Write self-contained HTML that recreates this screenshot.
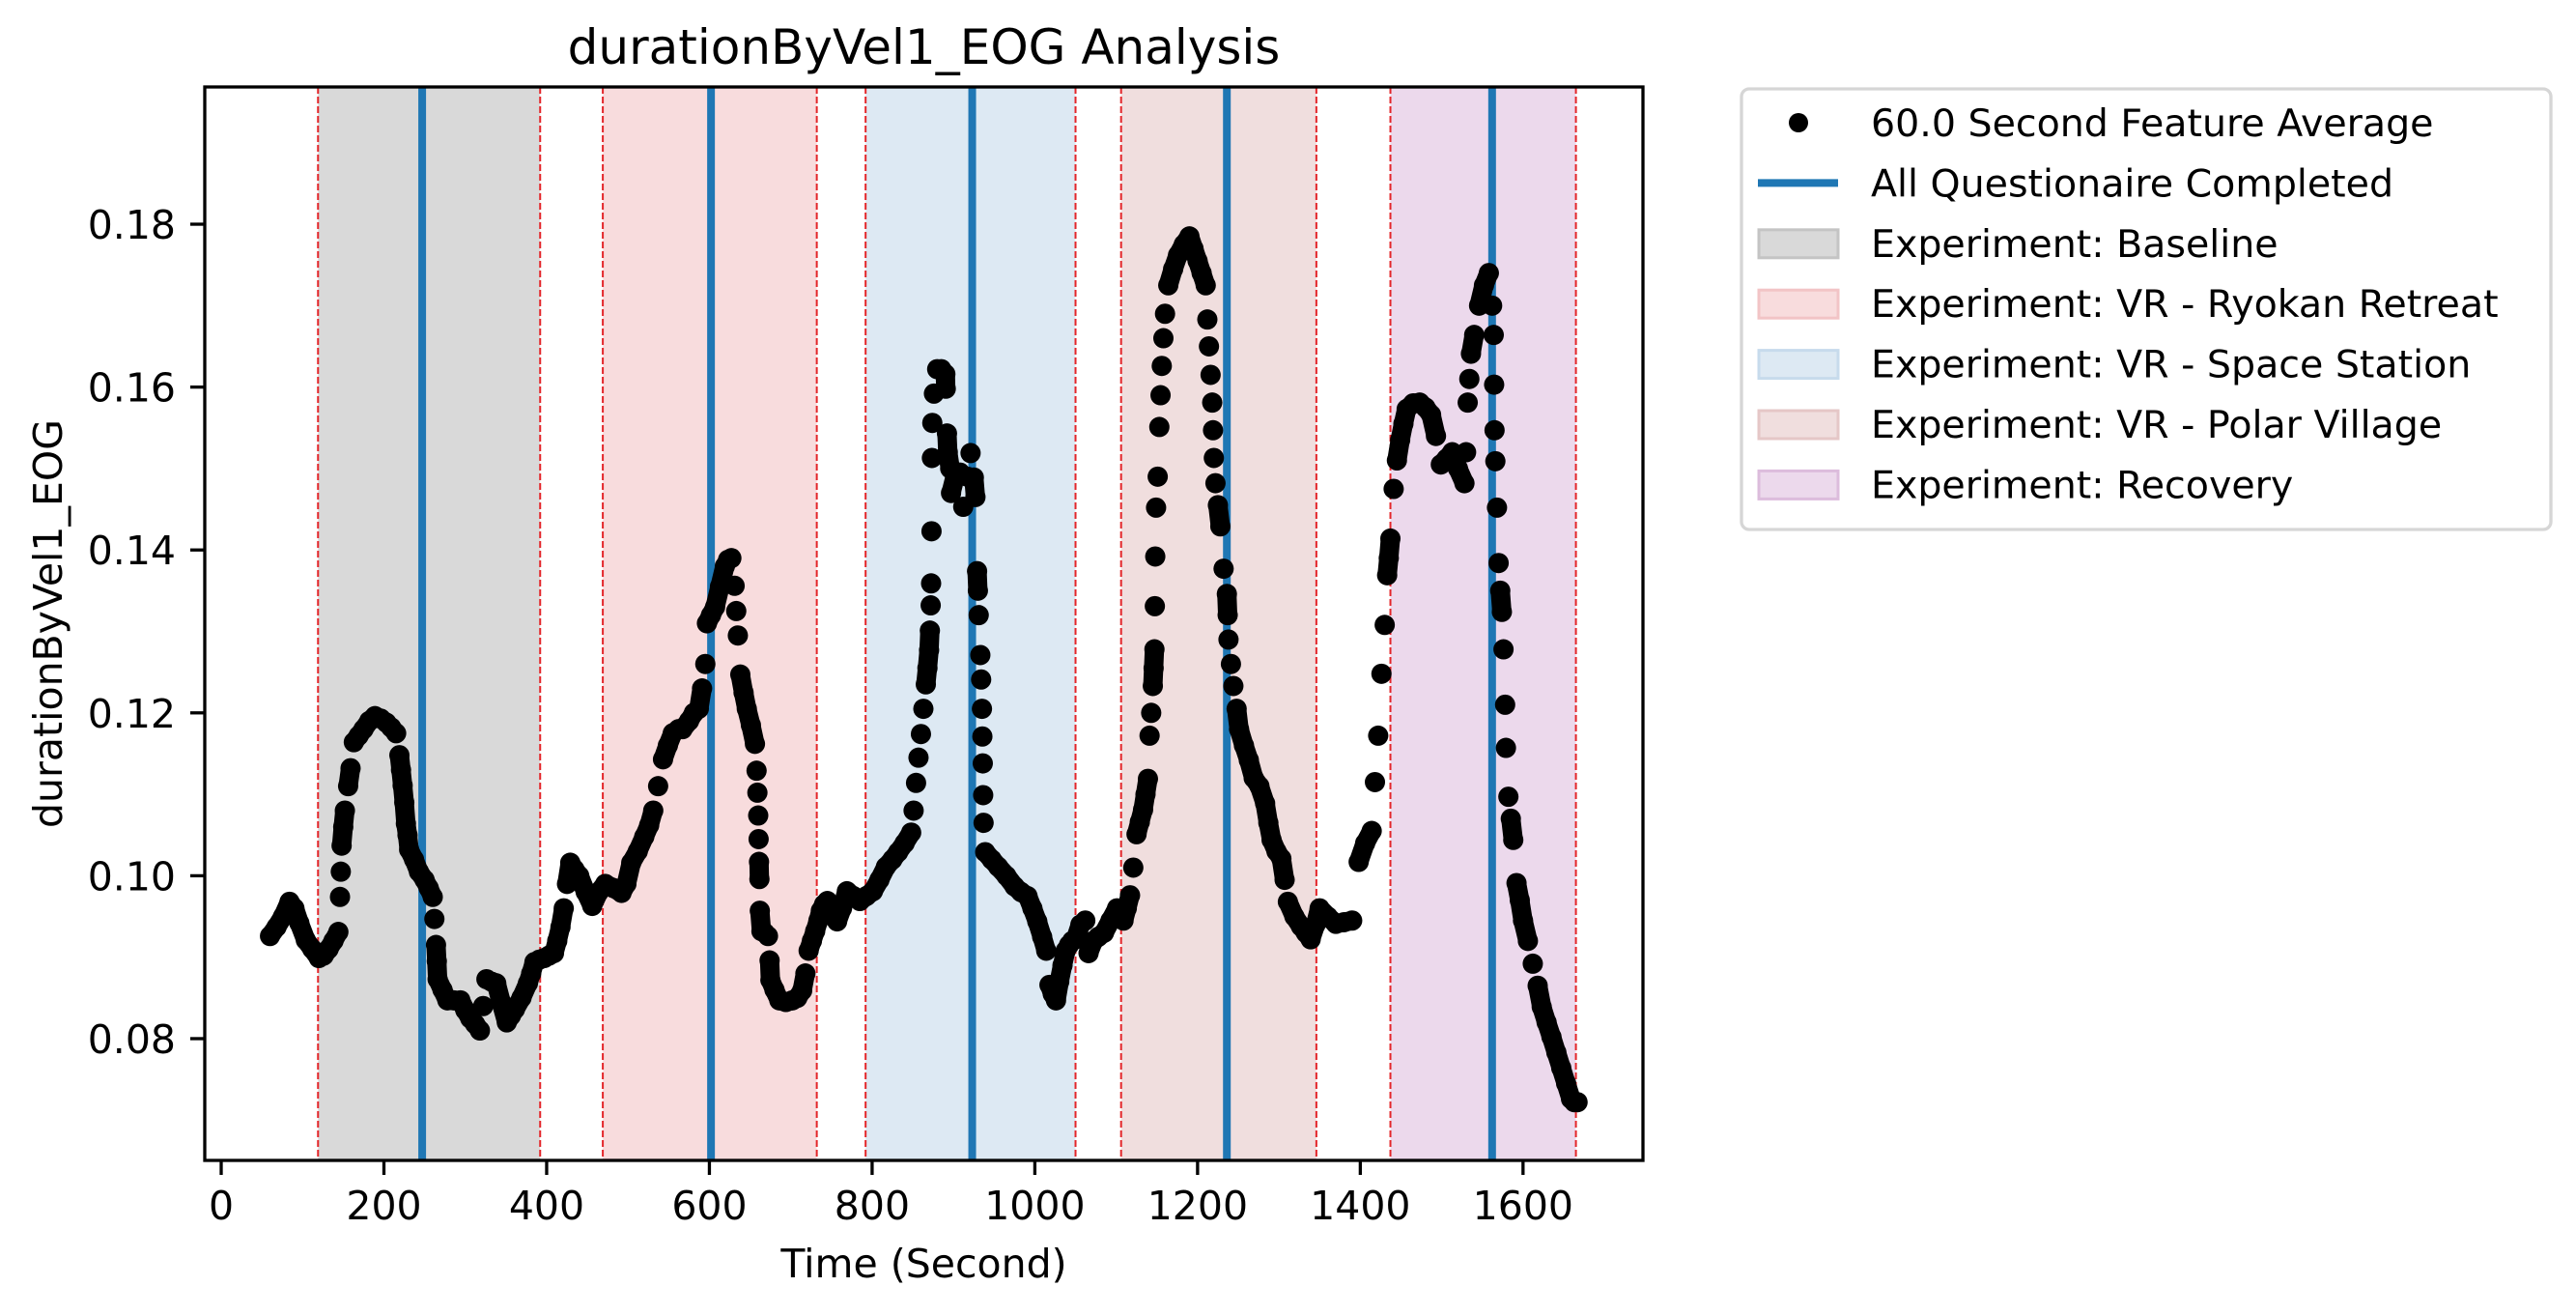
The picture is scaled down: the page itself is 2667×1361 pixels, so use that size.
<!DOCTYPE html>
<html><head><meta charset="utf-8"><title>durationByVel1_EOG Analysis</title>
<style>html,body{margin:0;padding:0;background:#fff;}svg{display:block;font-family:"DejaVu Sans","Liberation Sans",sans-serif;}</style>
</head><body>
<svg id="chart" width="2667" height="1361" viewBox="0 0 2667 1361" xmlns="http://www.w3.org/2000/svg">
<rect x="0" y="0" width="2667" height="1361" fill="#fff"/>
<g id="bands"></g><g id="vlines"></g><g id="dots"></g><g id="axes"></g><g id="legend"></g>
</svg>
<script>
const times = [60,68,76,84,90,96,104,112,120,126,132,138,144,146,147,148,150,152,156,159,163,169,175,182,189,196,203,209,215,219,221,223,225,227,229,231,237,243,250,255,260,262,264,265,266,272,278,286,294,300,306,312,318,322,326,332,338,344,351,356,361,369,377,381,385,391,397,403,409,413,417,421,425,429,434,440,448,456,464,472,482,492,498,504,512,520,526,531,537,543,549,555,562,567,575,581,587,591,595,597,602,607,613,619,623,627,631,633,635,638,642,646,651,656,658,659,660,660.5,661,661.5,662,664,668,672,674,675,680,686,694,702,708,714,718,722,726,730,734,737,741,745,751,757,763,769,777,785,793,801,809,817,825,832,840,848,851,854,857,860,863,866,868,870,871,872,872.5,873,873.5,874,876,880,885,890,890.5,892,893,896,897,902,908,912,917,921,925,927,929,930,931,933,934,935,935.5,936,936.5,937,939,947,955,965,975,983,991,997,1003,1009,1014,1018,1022,1026,1030,1034,1038,1042,1046,1050,1056,1062,1066,1072,1078,1085,1093,1101,1109,1113,1117,1121,1125,1129,1133,1136,1139,1141,1143,1145,1146,1147,1147.5,1148,1149,1151,1153,1154.5,1156,1158,1160,1164,1170,1176,1183,1190,1195,1200,1205,1210,1212,1214,1216,1218,1219,1220,1222,1225,1228,1232,1236,1237,1238,1241,1244,1248,1251,1257,1263,1269,1276,1283,1287,1291,1297,1303,1307,1311,1319,1327,1333,1339,1345,1350,1360,1370,1380,1390,1398,1406,1414,1418,1422,1426,1430,1433,1435,1437,1441,1445,1449,1453,1457,1465,1473,1480,1487,1493,1499,1506,1513,1520,1528,1530,1532,1534,1536,1540,1546,1552,1558,1562,1564,1564.5,1565,1566,1568,1570,1572,1574,1576,1578,1579,1582,1585,1588,1592,1596,1600,1606,1612,1618,1623,1629,1635,1641,1647,1653,1659,1663,1667];
const values = [.0926,.0937,.095,.0968,.096,.0942,.0921,.091,.0899,.0902,.091,.092,.0931,.0974,.1005,.1037,.106,.108,.111,.1132,.1164,.1172,.118,.119,.1196,.1193,.1188,.1182,.1175,.1148,.113,.1111,.109,.1064,.105,.1032,.102,.1005,.0995,.0985,.0974,.0947,.0915,.0895,.0873,.086,.0847,.0847,.0847,.0835,.0825,.0818,.081,.084,.0873,.087,.0868,.0845,.082,.0828,.0836,.085,.0868,.088,.0894,.0897,.0899,.0902,.0905,.092,.0937,.096,.099,.1016,.1008,.1,.098,.0963,.098,.099,.0985,.0979,.099,.1016,.103,.1048,.1062,.108,.111,.1143,.116,.1175,.118,.118,.119,.12,.1205,.123,.126,.131,.132,.133,.1355,.138,.1388,.139,.1356,.1325,.1295,.1247,.1225,.1205,.1185,.1162,.1129,.1102,.1074,.1045,.1017,.0996,.0957,.0932,.093,.0926,.0896,.0872,.086,.0847,.0845,.0847,.085,.0859,.088,.0908,.092,.0932,.0945,.0957,.0965,.0969,.096,.0944,.096,.0981,.0975,.0969,.0975,.0981,.0995,.1011,.102,.1029,.104,.1053,.108,.1114,.1145,.1174,.1205,.1235,.1255,.1277,.1301,.1332,.1359,.1423,.1513,.1556,.1592,.1622,.1622,.1616,.1598,.1543,.152,.15,.147,.149,.1495,.1453,.149,.1519,.1489,.1465,.1374,.135,.132,.1271,.1241,.1205,.1171,.1138,.1099,.1065,.1029,.102,.1011,.1,.0987,.098,.0975,.096,.0944,.0925,.0908,.0866,.0855,.0847,.087,.089,.0908,.0915,.092,.0922,.094,.0945,.0905,.092,.0925,.093,.0945,.096,.0945,.096,.0976,.101,.1051,.1066,.1081,.11,.1119,.1172,.12,.1233,.1255,.1278,.1331,.1392,.1452,.149,.1551,.159,.1626,.166,.169,.1725,.1745,.1762,.1775,.1785,.177,.1755,.174,.1725,.1683,.165,.1615,.1581,.1547,.1513,.1482,.1455,.1429,.1377,.1346,.132,.129,.126,.1233,.1205,.118,.116,.1142,.112,.111,.1089,.1065,.1044,.103,.1021,.0995,.0968,.095,.0938,.093,.0922,.094,.096,.095,.0941,.0943,.0945,.1017,.104,.1055,.1115,.1172,.1248,.1308,.1369,.139,.1414,.1475,.151,.1535,.1555,.1573,.158,.1581,.1575,.1566,.154,.1505,.1512,.152,.15,.1482,.152,.1581,.161,.1641,.1664,.17,.1725,.174,.17,.1664,.1603,.1547,.1509,.1452,.1384,.135,.1324,.1278,.121,.1157,.1097,.107,.1044,.0991,.097,.0945,.092,.0892,.0865,.0839,.082,.0802,.0783,.0764,.0745,.0726,.0722,.0722];
const bandNames = ["Baseline","VR - Ryokan Retreat","VR - Space Station","VR - Polar Village","Recovery"];
const bandStarts = [119,469,792,1106,1437];
const bandEnds = [392,732,1050,1346,1665];
const questionnaireTimes = [247,602,923,1236,1562];
const xTicks = [0,200,400,600,800,1000,1200,1400,1600];
const yTicks = [0.08,0.10,0.12,0.14,0.16,0.18];

const NS = "http://www.w3.org/2000/svg";
const L = 212, R = 1701, T = 90, B = 1201;
const xMin = -20.2, xMax = 1747.4, yMin = 0.06505, yMax = 0.19685;
const xs = t => L + (t - xMin) / (xMax - xMin) * (R - L);
const ys = v => B - (v - yMin) / (yMax - yMin) * (B - T);
function mk(tag, attrs, parent, text) {
  const e = document.createElementNS(NS, tag);
  for (const k in attrs) e.setAttribute(k, attrs[k]);
  if (text !== undefined) e.textContent = text;
  parent.appendChild(e);
  return e;
}
const fills = ["#d9d9d9","#f8dcdd","#dde9f3","#f0dede","#ecd9ec"];
const edges = ["#c4c4c4","#f2c4c6","#c7dbec","#e5c7c7","#dcbcdc"];
const bandsG = document.getElementById("bands");
bandStarts.forEach((s, i) => {
  const r = mk("rect", {x: xs(s), y: T, width: xs(bandEnds[i]) - xs(s), height: B - T, fill: fills[i]}, bandsG);
  
  
  [s, bandEnds[i]].forEach(t => {
    const ln = mk("line", {x1: xs(t), x2: xs(t), y1: T, y2: B, stroke: "#e3262a", "stroke-width": 2, "stroke-dasharray": "7,3"}, bandsG);
    
    
  });
});
const vG = document.getElementById("vlines");
questionnaireTimes.forEach(t => {
  const ln = mk("line", {x1: xs(t), x2: xs(t), y1: T, y2: B, stroke: "#1f77b4", "stroke-width": 8}, vG);
  
  
});
const dG = document.getElementById("dots");
for (let i = 1; i < times.length; i++) {
  const x1 = xs(times[i-1]), y1 = ys(values[i-1]), x2 = xs(times[i]), y2 = ys(values[i]);
  if (Math.abs(y2 - y1) < 22) {
    const seg = mk("line", {x1: x1, y1: y1, x2: x2, y2: y2, stroke: "#000", "stroke-width": 20, "stroke-linecap": "round"}, dG);
    
    
  }
}
times.forEach((t, i) => {
  const c = mk("circle", {cx: xs(t), cy: ys(values[i]), r: 10.5, fill: "#000"}, dG);
  
  
});
const aG = document.getElementById("axes");
const frame = mk("rect", {x: L, y: T, width: R - L, height: B - T, fill: "none", stroke: "#000", "stroke-width": 3.3}, aG);


xTicks.forEach(t => {
  const tk = mk("line", {x1: xs(t), x2: xs(t), y1: B, y2: B + 15, stroke: "#000", "stroke-width": 3.3}, aG);
  
  
  const lb = mk("text", {x: xs(t), y: 1262, "font-size": 41, "text-anchor": "middle", fill: "#000"}, aG, String(t));
  
  
});
yTicks.forEach(v => {
  const tk = mk("line", {x1: L - 15, x2: L, y1: ys(v), y2: ys(v), stroke: "#000", "stroke-width": 3.3}, aG);
  
  
  const lb = mk("text", {x: 182, y: ys(v) + 15, "font-size": 41, "text-anchor": "end", fill: "#000"}, aG, v.toFixed(2));
  
  
});
const title = mk("text", {x: (L + R) / 2, y: 66, "font-size": 50, "text-anchor": "middle", fill: "#000"}, aG, "durationByVel1_EOG Analysis");


const xl = mk("text", {x: (L + R) / 2, y: 1322, "font-size": 41, "text-anchor": "middle", fill: "#000"}, aG, "Time (Second)");


const yl = mk("text", {x: 0, y: 0, "font-size": 41, "text-anchor": "middle", fill: "#000", transform: "translate(64," + ((T + B) / 2) + ") rotate(-90)"}, aG, "durationByVel1_EOG");



const lg = document.getElementById("legend");


const box = mk("rect", {x: 1803, y: 92, width: 838, height: 456, rx: 8, fill: "#fff", stroke: "#d6d6d6", "stroke-width": 3.3}, lg);


const labels = ["60.0 Second Feature Average", "All Questionaire Completed"].concat(bandNames.map(n => "Experiment: " + n));
labels.forEach((lab, i) => {
  const cy = 127 + i * 62.4;
  let h;
  if (i === 0) h = mk("circle", {cx: 1862, cy: cy, r: 10, fill: "#000"}, lg);
  else if (i === 1) h = mk("line", {x1: 1820, x2: 1903, y1: cy, y2: cy, stroke: "#1f77b4", "stroke-width": 8}, lg);
  else h = mk("rect", {x: 1821, y: cy - 14, width: 82, height: 29, fill: fills[i - 2], stroke: edges[i - 2], "stroke-width": 3}, lg);
  
  
  const t = mk("text", {x: 1937, y: cy + 14, "font-size": 39.5, fill: "#000"}, lg, lab);
  
  
});
</script>
</body></html>
